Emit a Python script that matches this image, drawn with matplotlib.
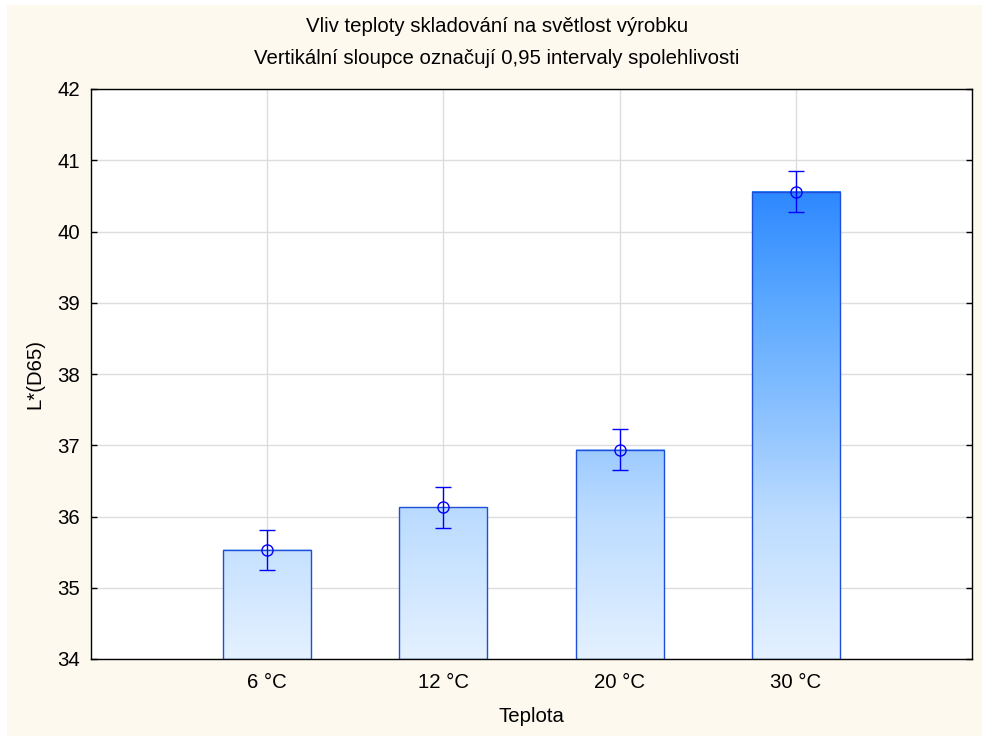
import numpy as np
import matplotlib
matplotlib.use("Agg")
import matplotlib.pyplot as plt
from matplotlib.colors import LinearSegmentedColormap, Normalize
from matplotlib.patches import Rectangle

# data
categories = ["6 °C", "12 °C", "20 °C", "30 °C"]
means = [35.53, 36.13, 36.94, 40.56]
ci_half = [0.285, 0.285, 0.285, 0.285]

title_line1 = "Vliv teploty skladování na světlost výrobku"
title_line2 = "Vertikální sloupce označují 0,95 intervaly spolehlivosti"
x_label = "Teplota"
y_label = "L*(D65)"

plt.rcParams['font.family'] = ['Liberation Sans', 'DejaVu Sans']
fs = 14.7

cream = "#fdf9ee"
fig = plt.figure(figsize=(9.82, 7.36), dpi=100)
fig.patch.set_facecolor("white")
fig.patches.append(Rectangle((7 / 982, 0), 1, 1 - 5 / 736, transform=fig.transFigure,
                             facecolor=cream, edgecolor="none", zorder=-10))

ax = fig.add_axes([91 / 982, 1 - 659 / 736, 881 / 982, 570 / 736])
ax.set_facecolor("white")

ymin, ymax = 34, 42
x = np.arange(len(categories))
bar_w = 0.5

# gradient goes with absolute y value
cmap = LinearSegmentedColormap.from_list(
    "bluegrad",
    [(0.0, "#e4f1ff"), (0.3, "#bcdcff"), (0.5, "#8ec3ff"),
     (0.75, "#5aa8ff"), (1.0, "#2a86ff")])
norm = Normalize(vmin=34, vmax=40.7)

for xi, m in zip(x, means):
    grad = np.linspace(ymin, m, 200).reshape(-1, 1)
    ax.imshow(grad, extent=[xi - bar_w / 2, xi + bar_w / 2, ymin, m], origin="lower",
              cmap=cmap, norm=norm, aspect="auto", zorder=2, interpolation="bilinear")
    ax.add_patch(Rectangle((xi - bar_w / 2, ymin), bar_w, m - ymin, facecolor="none",
                           edgecolor="#1f4fd8", linewidth=1.0, zorder=3))

ax.errorbar(x, means, yerr=ci_half, fmt="o", color="#0000ff", mfc="none", mec="#0000ff",
            markersize=8, capsize=6, elinewidth=1.0, capthick=1.0, mew=1.0, zorder=4)

ax.set_xlim(-1, 4)
ax.set_ylim(ymin, ymax)
ax.set_xticks(x)
ax.set_xticklabels(categories)
ax.set_yticks(np.arange(34, 43, 1))
ax.grid(True, color="#dddddd", linewidth=1.0, zorder=0)
ax.set_axisbelow(True)
ax.tick_params(direction="in", length=4, width=1, left=True, right=True, bottom=True,
               top=False, labelsize=fs, pad=8)
ax.tick_params(axis="x", pad=10)
for s in ax.spines.values():
    s.set_linewidth(1.0)
    s.set_color("black")
    s.set_zorder(5)

fig.text(497 / 982, 1 - 26 / 736, title_line1, ha="center", va="center", fontsize=fs)
fig.text(497 / 982, 1 - 58 / 736, title_line2, ha="center", va="center", fontsize=fs)
fig.text(531 / 982, 1 - 717 / 736, x_label, ha="center", va="center", fontsize=fs)
fig.text(35 / 982, 1 - 374 / 736, y_label, ha="center", va="center", fontsize=fs,
         rotation=90)

fig.savefig("out.png", dpi=100, facecolor=fig.get_facecolor())
